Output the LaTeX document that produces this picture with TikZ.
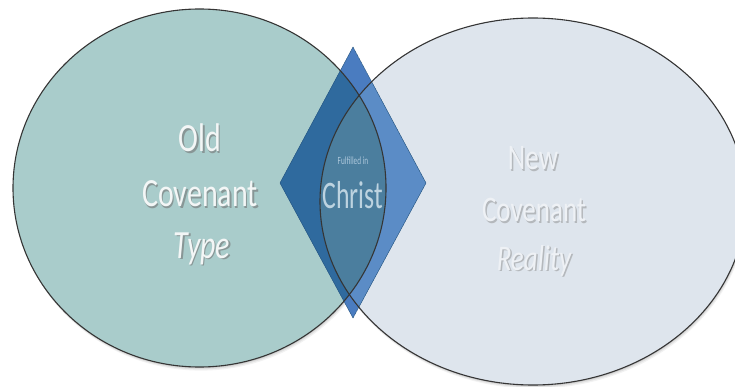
\documentclass[tikz,border=0pt]{standalone}
\usepackage{fontspec}
\setmainfont{Carlito}
\newfontfamily\narrowfont[FakeStretch=0.75]{Carlito}
\newfontfamily\slimfont[FakeStretch=0.66]{Carlito}
\definecolor{oldfill}{HTML}{A9CCCB}
\definecolor{newfill}{HTML}{DEE5ED}
\definecolor{rimline}{HTML}{353535}
\definecolor{dia}{HTML}{4A7CC0}
\definecolor{diaold}{HTML}{2F6A9E}
\definecolor{dianew}{HTML}{5B8CC6}
\definecolor{diaboth}{HTML}{4B7E9E}
\definecolor{oldtext}{HTML}{F3F6F6}
\definecolor{newtext}{HTML}{EEF1F5}
\definecolor{christtext}{HTML}{BDD3E0}
\tikzset{
  rim/.style={draw=rimline, line width=1.1pt},
  bigword/.style={inner sep=0pt, anchor=base, font=\fontsize{40}{40}\narrowfont},
  newword/.style={inner sep=0pt, anchor=base, font=\fontsize{36}{36}\narrowfont},
}
\newcommand{\oldshape}{(L) ellipse [x radius=186.5, y radius=179]}
\newcommand{\newshape}{(R) ellipse [x radius=213, y radius=183.5]}
\newcommand{\diashape}{(dT) -- (dR) -- (dB) -- (dL) -- cycle}
\begin{document}
\begin{tikzpicture}[x=1pt, y=-1pt]
\useasboundingbox (0,0) rectangle (735,387);
\coordinate (L) at (199.5,188);
\coordinate (R) at (533,201.5);
\coordinate (dT) at (353,47);
\coordinate (dB) at (353,318);
\coordinate (dL) at (280,183);
\coordinate (dR) at (426,183);

% soft shadows under the two circles
\foreach \d/\o in {1/0.10, 2/0.07, 3/0.05}{
  \fill[black, opacity=\o] (199.5+0.5*\d,188+1.2*\d) ellipse [x radius=186.5, y radius=179];
  \fill[black, opacity=\o] (533+0.5*\d,201.5+1.2*\d) ellipse [x radius=213, y radius=183.5];
}

% the two covenants
\fill[oldfill] \oldshape;
\fill[newfill] \newshape;

% the diamond, tinted by what lies beneath it
\begin{scope}
  \clip \diashape;
  \fill[dia] \diashape;
  \fill[diaold] \oldshape;
  \fill[dianew] \newshape;
  \begin{scope}
    \clip \oldshape;
    \fill[diaboth] \newshape;
  \end{scope}
\end{scope}
\draw[draw=diaold!80!black, line width=0.4pt] \diashape;

% outlines
\draw[rim] \oldshape;
\draw[rim] \newshape;

% Old Covenant
\node[bigword, text=black!55, opacity=0.6] (old-s) at (201.5,153.5) {Old};
\node[bigword, text=oldtext] (old) at (200,152) {Old};
\node[bigword, text=black!55, opacity=0.6] (oldcov-s) at (201.5,208.5) {Covenant};
\node[bigword, text=oldtext] (oldcov) at (200,207) {Covenant};
\node[bigword, text=black!55, opacity=0.6] (type-s) at (203.5,259.5) {\itshape Type};
\node[bigword, text=oldtext] (type) at (202,258) {\itshape Type};

% New Covenant
\node[newword, text=black!45, opacity=0.5] (new-s) at (534.5,171.5) {New};
\node[newword, text=newtext] (new) at (533,170) {New};
\node[newword, text=black!45, opacity=0.5] (newcov-s) at (535.5,223.5) {Covenant};
\node[newword, text=newtext] (newcov) at (534,222) {Covenant};
\node[newword, text=black!45, opacity=0.5] (reality-s) at (535.5,271.5) {\itshape Reality};
\node[newword, text=newtext] (reality) at (534,270) {\itshape Reality};

% Christ
\node[inner sep=0pt, anchor=base, text=christtext!85!dianew, font=\fontsize{11}{11}\slimfont] (fulfilled) at (353,165) {Fulfilled in};
\node[inner sep=0pt, anchor=base, text=christtext, font=\fontsize{39}{39}\slimfont] (christ) at (353,208) {Christ};
\end{tikzpicture}
\end{document}
